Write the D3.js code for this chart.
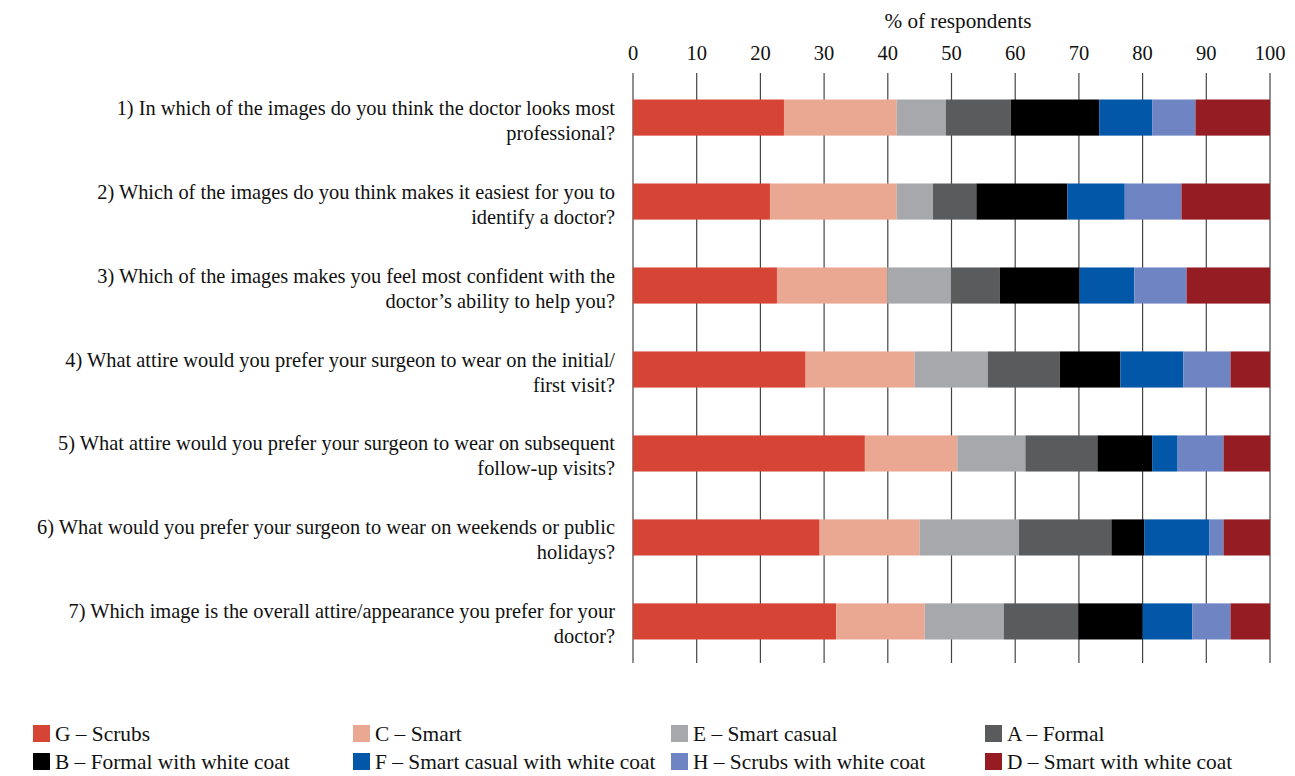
<!DOCTYPE html>
<html>
<head>
<meta charset="utf-8">
<script src="https://cdn.jsdelivr.net/npm/d3@7"></script>
<style>
  body { margin: 0; background: #fff; }
</style>
</head>
<body>
<svg id="chart" width="1295" height="776"></svg>
<script>
// questions, each split into the two lines as printed
const questions = [
    ["1) In which of the images do you think the doctor looks most", "professional?"],
    ["2) Which of the images do you think makes it easiest for you to", "identify a doctor?"],
    ["3) Which of the images makes you feel most confident with the", "doctor\u2019s ability to help you?"],
    ["4) What attire would you prefer your surgeon to wear on the initial/", "first visit?"],
    ["5) What attire would you prefer your surgeon to wear on subsequent", "follow-up visits?"],
    ["6) What would you prefer your surgeon to wear on weekends or public", "holidays?"],
    ["7) Which image is the overall attire/appearance you prefer for your", "doctor?"]
];

const seriesNames = [
    "G \u2013 Scrubs", "C \u2013 Smart", "E \u2013 Smart casual", "A \u2013 Formal",
    "B \u2013 Formal with white coat", "F \u2013 Smart casual with white coat",
    "H \u2013 Scrubs with white coat", "D \u2013 Smart with white coat"
];
const seriesColors = ["#d64436", "#eaa892", "#a7a8ab", "#5a5b5d", "#000000", "#0257a8", "#6f84c2", "#951c22"];

// % of respondents per question (Q1..Q7)
const scrubs          = [23.7, 21.5, 22.6, 27.1, 36.4, 29.3, 31.9];
const smart           = [17.7, 19.9, 17.3, 17.1, 14.5, 15.7, 13.9];
const smartCasual     = [7.7, 5.7, 10.0, 11.5, 10.7, 15.6, 12.4];
const formal          = [10.2, 6.8, 7.7, 11.3, 11.3, 14.5, 11.7];
const formalCoat      = [13.9, 14.3, 12.5, 9.5, 8.6, 5.2, 10.1];
const smartCasualCoat = [8.3, 9.0, 8.6, 9.9, 4.0, 10.2, 7.8];
const scrubsCoat      = [6.8, 8.9, 8.2, 7.4, 7.2, 2.2, 6.0];
const smartCoat       = [11.7, 13.9, 13.1, 6.2, 7.3, 7.3, 6.2];

const xTicks = [0, 10, 20, 30, 40, 50, 60, 70, 80, 90, 100];

const seriesValues = [scrubs, smart, smartCasual, formal, formalCoat, smartCasualCoat, scrubsCoat, smartCoat];
const keys = seriesNames;
const rows = questions.map((q, i) => {
    const r = {idx: i};
    keys.forEach((k, j) => r[k] = seriesValues[j][i]);
    return r;
});

const svg = d3.select("svg#chart")
    .style("font-family", '"Liberation Serif", "Times New Roman", serif');
const plotLeft = 633, plotRight = 1270, plotTop = 76, plotBottom = 663;

const x = d3.scaleLinear().domain([0, 100]).range([plotLeft, plotRight]);
const y = d3.scaleBand().domain(d3.range(questions.length)).range([plotTop, plotBottom]).paddingInner(0.57).paddingOuter(0.28);

// grid lines
svg.append("g").selectAll("line")
    .data(xTicks)
    .enter().append("line")
    .attr("x1", d => x(d)).attr("x2", d => x(d))
    .attr("y1", 73).attr("y2", plotBottom)
    .attr("stroke", "#444").attr("stroke-width", 1.2);

// top axis labels
svg.append("g").selectAll("text")
    .data(xTicks)
    .enter().append("text")
    .attr("x", d => x(d)).attr("y", 60)
    .attr("text-anchor", "middle")
    .attr("font-size", 20.5)
    .attr("fill", "#111")
    .text(d => d);

svg.append("text")
    .attr("x", 958).attr("y", 28)
    .attr("text-anchor", "middle").attr("font-size", 21.2)
    .attr("fill", "#111")
    .text("% of respondents");

// stacked bars
const stacked = d3.stack().keys(keys)(rows);
svg.append("g").selectAll("g")
    .data(stacked)
    .enter().append("g")
    .attr("fill", (d, i) => seriesColors[i])
    .selectAll("rect")
    .data(d => d)
    .enter().append("rect")
    .attr("x", d => x(d[0]))
    .attr("width", d => x(d[1]) - x(d[0]))
    .attr("y", d => y(d.data.idx))
    .attr("height", y.bandwidth());

// question labels
const labels = svg.append("g").selectAll("text")
    .data(questions)
    .enter().append("text")
    .attr("text-anchor", "end")
    .attr("font-size", 20.4)
    .attr("fill", "#111");
labels.each(function (q, i) {
    const cy = y(i) + y.bandwidth() / 2;
    d3.select(this).selectAll("tspan")
        .data(q)
        .enter().append("tspan")
        .attr("x", 615)
        .attr("y", (d, j) => cy - 3 + j * 25)
        .text(d => d);
});

// legend
const legendX = [33, 353, 671, 985];
const legend = svg.append("g").selectAll("g")
    .data(seriesNames)
    .enter().append("g")
    .attr("transform", (d, i) => `translate(${legendX[i % 4]}, ${i < 4 ? 725 : 753})`);
legend.append("rect")
    .attr("width", 17).attr("height", 17)
    .attr("fill", (d, i) => seriesColors[i]);
legend.append("text")
    .attr("x", 22).attr("y", 15.5)
    .attr("font-size", 21.4)
    .attr("fill", "#111")
    .text(d => d);
</script>
</body>
</html>
